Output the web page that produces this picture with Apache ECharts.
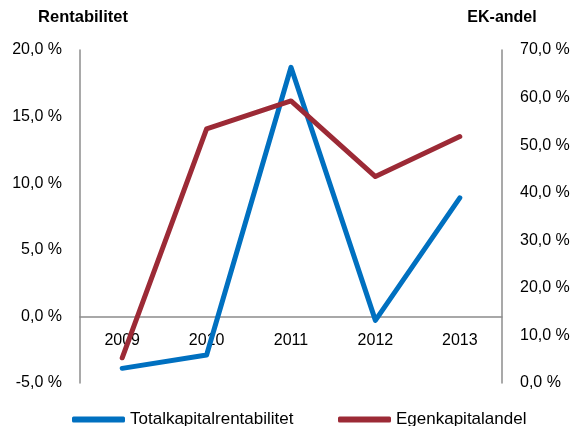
<!DOCTYPE html>
<html><head><meta charset="utf-8">
<script src="https://cdn.jsdelivr.net/npm/echarts@6/dist/echarts.min.js"></script>
<style>html,body{margin:0;padding:0;background:#fff}#c{width:573px;height:426px}</style>
</head><body><div id="c"></div>
<script>
const categories = ['2009','2010','2011','2012','2013'];
const totalkapitalrentabilitet = [-3.9, -2.9, 18.7, -0.3, 8.9];
const egenkapitalandel = [5.3, 53.4, 59.3, 43.4, 51.8];
const leftTicks = {min:-5, max:20, interval:5};
const rightTicks = {min:0, max:70, interval:10};

const fmt = v => v.toFixed(1).replace('.', ',') + ' %';
const font = 'Liberation Sans, Arial, sans-serif';
const gridTop = 50, gridBottom = 43, H = 426;
const gridH = H - gridTop - gridBottom;
// place the category axis on the zero line of the left value axis
const zeroOffset = -gridH * (0 - leftTicks.min) / (leftTicks.max - leftTicks.min);

const chart = echarts.init(document.getElementById('c'));
chart.setOption({
  animation:false,
  textStyle:{fontFamily:font},
  grid:{left:80, right:71, top:gridTop, bottom:gridBottom},
  legend:[
    {data:['Totalkapitalrentabilitet'], left:67, top:406, itemWidth:53, itemHeight:6, icon:'roundRect',
     textStyle:{fontSize:17, color:'#000', fontFamily:font}},
    {data:['Egenkapitalandel'], left:333, top:406, itemWidth:53, itemHeight:6, icon:'roundRect',
     textStyle:{fontSize:17, color:'#000', fontFamily:font}}
  ],
  xAxis:{type:'category', data:categories, boundaryGap:true, offset:zeroOffset,
    axisLine:{onZero:false, lineStyle:{color:'#8c8c8c', width:1.5}},
    axisTick:{show:false},
    axisLabel:{color:'#000', fontSize:16, margin:16}
  },
  yAxis:[
    {type:'value', min:leftTicks.min, max:leftTicks.max, interval:leftTicks.interval,
     name:'Rentabilitet', nameLocation:'end', nameGap:24,
     nameTextStyle:{fontWeight:'bold', fontSize:16.5, color:'#000', align:'center', padding:[0,0,0,6]},
     axisLine:{show:true, lineStyle:{color:'#8c8c8c', width:1.5}},
     axisTick:{show:false}, splitLine:{show:false},
     axisLabel:{formatter:fmt, color:'#000', fontSize:16, margin:18}},
    {type:'value', min:rightTicks.min, max:rightTicks.max, interval:rightTicks.interval,
     name:'EK-andel', nameLocation:'end', nameGap:24,
     nameTextStyle:{fontWeight:'bold', fontSize:16, color:'#000', align:'center'},
     axisLine:{show:true, lineStyle:{color:'#8c8c8c', width:1.5}},
     axisTick:{show:false}, splitLine:{show:false},
     axisLabel:{formatter:fmt, color:'#000', fontSize:16, margin:18}}
  ],
  series:[
    {name:'Totalkapitalrentabilitet', type:'line', yAxisIndex:0, data:totalkapitalrentabilitet,
     showSymbol:false, symbol:'none', color:'#0070C0',
     lineStyle:{width:5, color:'#0070C0', cap:'round', join:'round'}},
    {name:'Egenkapitalandel', type:'line', yAxisIndex:1, data:egenkapitalandel,
     showSymbol:false, symbol:'none', color:'#9C2A36',
     lineStyle:{width:5, color:'#9C2A36', cap:'round', join:'round'}}
  ]
});
</script></body></html>
